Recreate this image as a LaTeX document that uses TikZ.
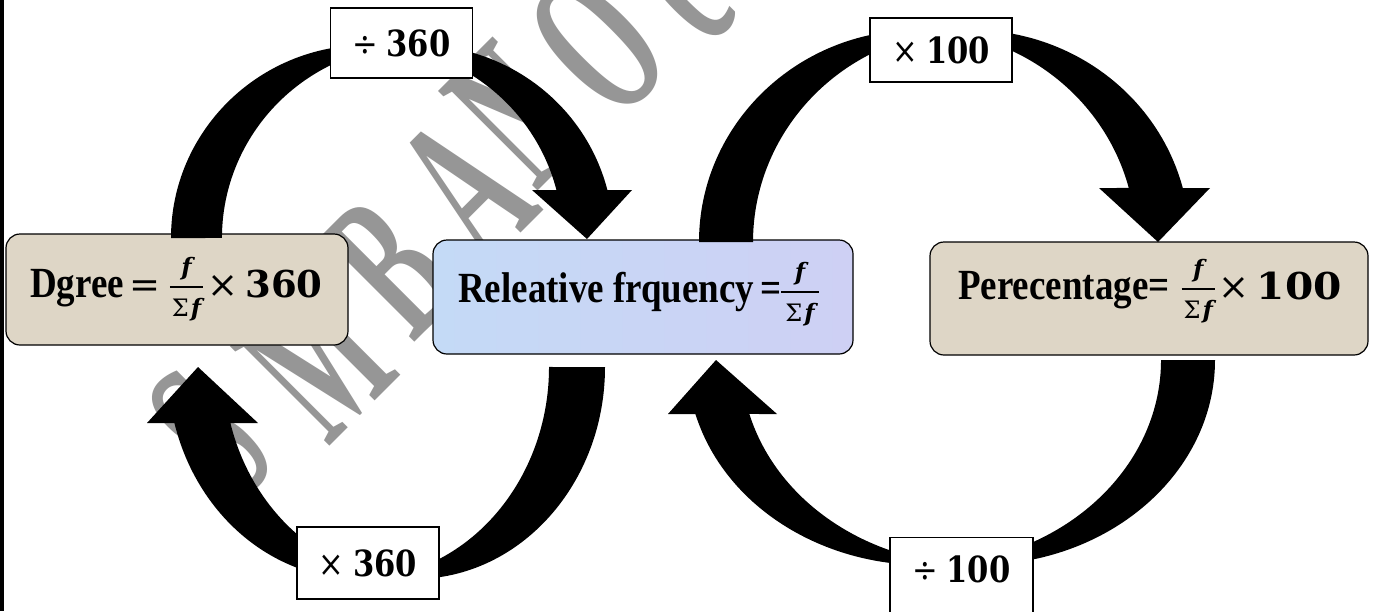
\documentclass[tikz,border=0pt]{standalone}
\usepackage{fontspec}
\setmainfont{Liberation Serif}
\newfontfamily\mathfont{DejaVu Serif}

\definecolor{boxbeige}{RGB}{222,214,198}
\definecolor{relblue}{RGB}{196,218,246}
\definecolor{relmid}{RGB}{214,208,242}
\definecolor{relpink}{RGB}{206,208,244}
\definecolor{wmgray}{RGB}{150,150,150}

% words of the formula boxes
\newcommand\word[1]{\scalebox{0.86}[1]{\fontsize{43}{50}\selectfont\bfseries #1}}
% numbers and signs of the formula boxes
\newcommand\num[1]{{\fontsize{37}{40}\selectfont\mathfont\bfseries #1}}
\newcommand\sign[1]{{\fontsize{37}{40}\selectfont\mathfont #1}}
% stacked fraction f over Sigma f
\newsavebox\numbox
\newsavebox\denbox
\newlength\fracwd
\newcommand\frc[1][4pt]{{\fontsize{24}{26}\selectfont\mathfont
  \sbox\numbox{\bfseries\itshape f}\sbox\denbox{Σ\kern2pt{\bfseries\itshape f}}%
  \setlength\fracwd{\wd\denbox}\addtolength\fracwd{#1}%
  \raisebox{-19pt}{\vbox{\hbox to\fracwd{\hss\usebox\numbox\hss}\kern6pt
    \hrule height 2pt\kern10pt
    \hbox to\fracwd{\hss\usebox\denbox\hss}}}}}
% text of the small operation boxes
\newcommand\optext[2]{\scalebox{0.85}[1]{\fontsize{36}{40}\selectfont\mathfont #1\hspace{10pt}\bfseries #2}}
% one letter of the background mark
\newcommand\wmletter[1]{\scalebox{0.52}[1]{\fontsize{215}{215}\selectfont\bfseries #1}}

\begin{document}
\begin{tikzpicture}[x=1pt,y=-1pt,
  formula/.style={draw=black, line width=1.2pt, rounded corners=14pt, inner sep=0pt},
  ftext/.style={anchor=base west, inner sep=0pt},
  opbox/.style={draw=black, line width=1.1pt, fill=white, inner sep=0pt, minimum width=142pt},
  curved/.style={fill=black},
  wm/.style={text=wmgray, inner sep=0pt, rotate=45}]
\useasboundingbox (0,0) rectangle (1373,611);
\fill[white] (0,0) rectangle (1373,611);
\fill[black] (0,0) rectangle (3.5,611);

% background mark, one letter at a time
\node[wm] (wm0) at (210,434) {\wmletter{S}};
\node[wm] (wm1) at (316,360) {\wmletter{M}};
\node[wm] (wm2) at (390,268) {\wmletter{B}};
\node[wm] (wm3) at (466,188) {\wmletter{A}};
\node[wm] (wm4) at (515,114) {\wmletter{N}};
\node[wm] (wm5) at (598,44) {\wmletter{O}};
\node[wm] (wm6) at (690,-4) {\wmletter{e}};

% formula boxes
\node[formula, fill=boxbeige, minimum width=342pt, minimum height=111pt] (dg) at (177,289.5) {};
\node[formula, left color=relblue, middle color=relmid, right color=relpink,
      minimum width=420pt, minimum height=114pt] (rel) at (643,297) {};
\node[formula, fill=boxbeige, minimum width=438pt, minimum height=113pt] (pct) at (1149,298.5) {};

\node[ftext] (dgt) at (30,297)
  {\word{Dgree}\hspace{6pt}\sign{=}\hspace{9pt}\frc\hspace{4pt}\sign{×}\hspace{7pt}\num{360}};
\node[ftext] (relt) at (458,302)
  {\word{Releative frquency\hspace{7pt}=}\frc[8pt]};
\node[ftext] (pctt) at (958,299)
  {\word{Perecentage=}\hspace{12pt}\frc\hspace{4pt}\sign{×}\hspace{7pt}\num{\scalebox{1.1}[1]{100}}};

% curved block arrows: two congruent half-ellipses shifted by the shaft width
% Dgree -> Relative frequency (over the top)
\fill[curved] (171,238) arc[start angle=180, end angle=345.6, x radius=195.8, y radius=193]
  -- (532,190) -- (587,239) -- (632,190) -- (607.4,190)
  arc[start angle=345.6, end angle=180, x radius=195.8, y radius=193] -- cycle;
% Relative frequency -> Percentage (over the top)
\fill[curved] (699,242) arc[start angle=180, end angle=345.24, x radius=218.5, y radius=212]
  -- (1099,188) -- (1158,242) -- (1210,188) -- (1182.8,188)
  arc[start angle=345.24, end angle=180, x radius=218.5, y radius=212] -- cycle;
% Relative frequency -> Dgree (underneath)
\fill[curved] (605,367) arc[start angle=0, end angle=164.68, x radius=190.7, y radius=212]
  -- (258,423) -- (198,367) -- (147,423) -- (174.4,423)
  arc[start angle=164.68, end angle=0, x radius=190.7, y radius=212] -- cycle;
% Percentage -> Relative frequency (underneath)
\fill[curved] (1215,360) arc[start angle=0, end angle=164.73, x radius=237, y radius=205]
  -- (777,414) -- (716,360) -- (668,414) -- (695.4,414)
  arc[start angle=164.73, end angle=0, x radius=237, y radius=205] -- cycle;

% operation labels on the arrows
\node[opbox, minimum height=70pt] (d360) at (401.5,43) {\optext{÷}{360}};
\node[opbox, minimum height=64pt] (m100) at (941,50) {\optext{×}{100}};
\node[opbox, minimum height=72pt] (m360) at (368,563) {\optext{×}{360}};
\node[opbox, minimum height=80pt, minimum width=143pt, anchor=north,
      text height=44.5pt, text depth=35.5pt] (d100) at (961.5,537) {\optext{÷}{100}};
\end{tikzpicture}
\end{document}
